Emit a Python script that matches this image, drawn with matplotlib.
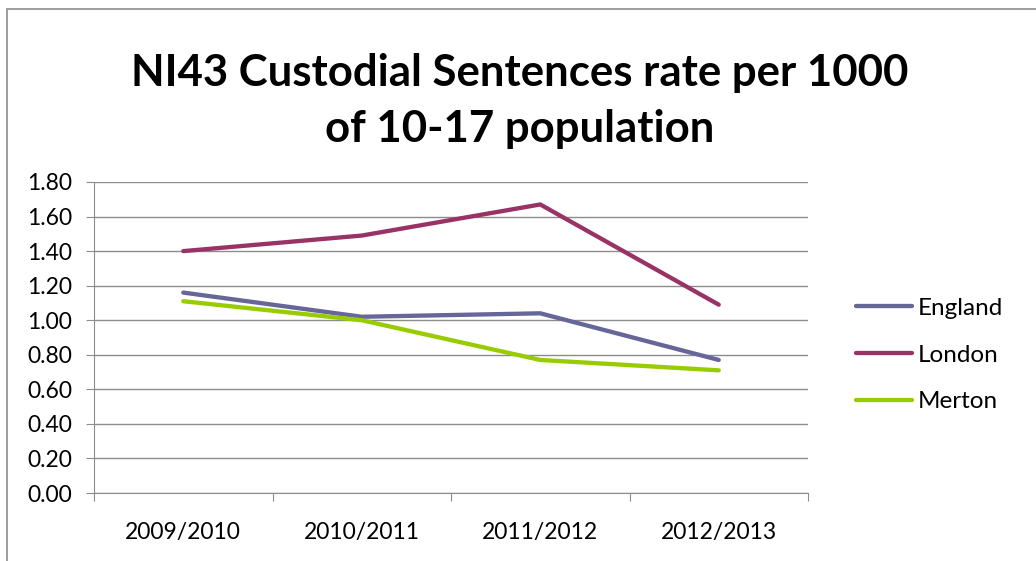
import matplotlib.pyplot as plt
from matplotlib.patches import Rectangle

# *****************************************************************************

YEARS = ['2009/2010', '2010/2011', '2011/2012', '2012/2013']
ENGLAND = [1.16, 1.02, 1.04, 0.77]
LONDON = [1.40, 1.49, 1.67, 1.09]
MERTON = [1.11, 1.00, 0.77, 0.71]

SERIES = [('England', ENGLAND, '#666699'),
          ('London', LONDON, '#993366'),
          ('Merton', MERTON, '#99CC00')]

TITLE = 'NI43 Custodial Sentences rate per 1000\nof 10-17 population'

# *****************************************************************************


def make_fig():

    plt.rcParams['font.family'] = ['Lato', 'DejaVu Sans']

    fig01 = plt.figure(figsize=(10.36, 5.61), dpi=100)

    # Chart frame
    fig01.patches.append(Rectangle((7/1036, -0.1), 1.2, 0.1+(561-9)/561,
                                   transform=fig01.transFigure, fill=False,
                                   edgecolor='#8C8C8C', lw=1.2))

    axs01 = fig01.add_axes([94/1036, 68/561, 714/1036, 311/561])

    xpos = [k+0.5 for k in range(len(YEARS))]
    for name, vals, col in SERIES:
        axs01.plot(xpos, vals, color=col, lw=3.1, label=name,
                   solid_capstyle='round', solid_joinstyle='round')

    axs01.set_xlim(0, len(YEARS))
    axs01.set_ylim(0, 1.8)
    axs01.set_yticks([k*0.2 for k in range(10)])
    axs01.set_yticklabels(['{:4.2f}'.format(k*0.2) for k in range(10)])
    axs01.set_xticks(range(len(YEARS)+1))
    axs01.set_xticklabels([''] * (len(YEARS)+1))
    for k, lab in enumerate(YEARS):
        axs01.text(k+0.5, -0.093, lab, ha='center', va='top', fontsize=16.5,
                   transform=axs01.get_xaxis_transform())

    axs01.grid(visible=True, axis='y', color='#8C8C8C', lw=1.0)
    axs01.set_axisbelow(True)
    for side in ['top', 'right']:
        axs01.spines[side].set_visible(False)
    for side in ['left', 'bottom']:
        axs01.spines[side].set_color('#8C8C8C')
    axs01.tick_params(axis='y', direction='out', length=5.8, color='#8C8C8C',
                      labelsize=16.5, pad=10)
    axs01.tick_params(axis='x', direction='out', length=5.8, color='#8C8C8C')

    fig01.text(520/1036, 1-101/561, TITLE, ha='center', va='center',
               fontsize=31.5, fontweight='bold', linespacing=1.48)

    axs01.legend(loc='center left', bbox_to_anchor=(856/1036, 1-355/561),
                 bbox_transform=fig01.transFigure, frameon=False, fontsize=17.5,
                 handlelength=2.3, labelspacing=1.06, handletextpad=0.25,
                 borderpad=0, borderaxespad=0)

    plt.savefig('out.png')
    plt.close()

    return None

# *****************************************************************************


if (__name__ == "__main__"):

    make_fig()

# *****************************************************************************
